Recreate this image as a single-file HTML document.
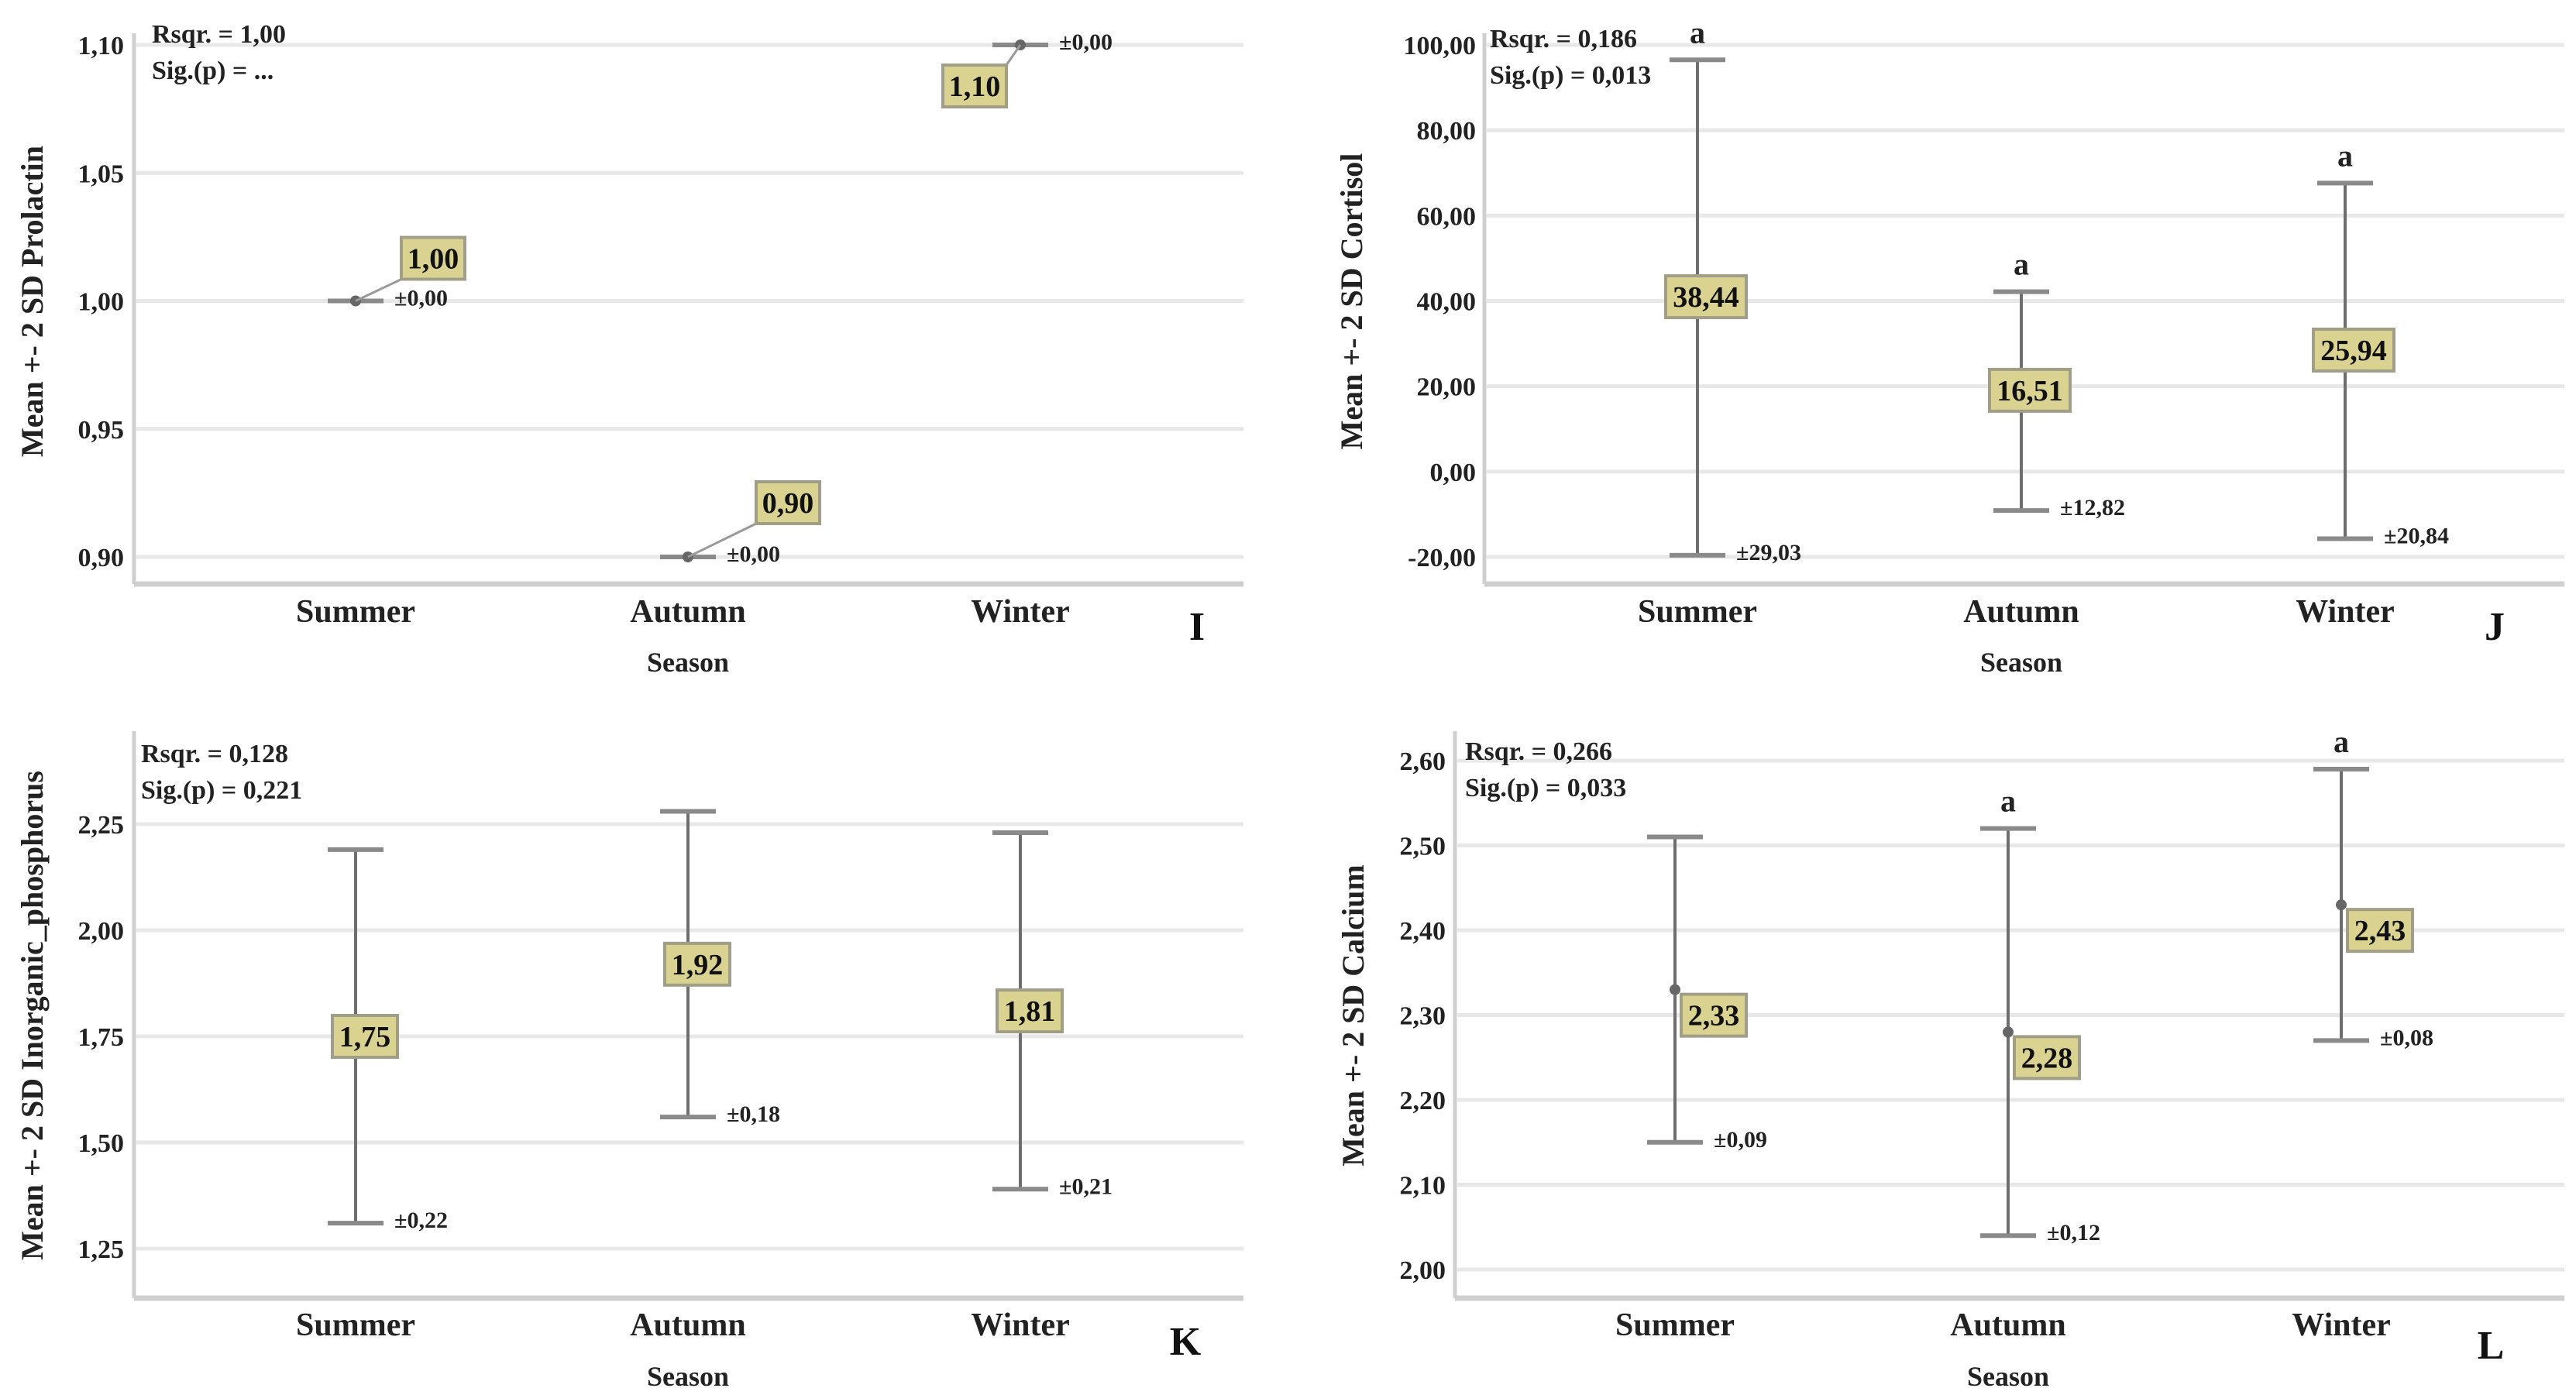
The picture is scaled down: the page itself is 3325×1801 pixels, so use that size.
<!DOCTYPE html>
<html><head><meta charset="utf-8"><style>
html,body{margin:0;padding:0;background:#fff;}
svg{display:block;font-family:"Liberation Serif",serif;font-weight:bold;}
</style></head><body>
<svg id="chart" width="3325" height="1801" viewBox="0 0 3325 1801" xmlns="http://www.w3.org/2000/svg"></svg>
<script>
const categories = ["Summer","Autumn","Winter"];
// Panel I - Prolactin
const prolMeans = [1.00, 0.90, 1.10];
const prolSD = [0.00, 0.00, 0.00];
const prolTicks = [0.90, 0.95, 1.00, 1.05, 1.10];
const prolLetters = ["", "", ""];
// Panel J - Cortisol
const cortMeans = [38.44, 16.51, 25.94];
const cortSD = [29.03, 12.82, 20.84];
const cortTicks = [-20, 0, 20, 40, 60, 80, 100];
const cortLetters = ["a", "a", "a"];
// Panel K - Inorganic phosphorus
const phosMeans = [1.75, 1.92, 1.81];
const phosSD = [0.22, 0.18, 0.21];
const phosTicks = [1.25, 1.50, 1.75, 2.00, 2.25];
const phosLetters = ["", "", ""];
// Panel L - Calcium
const calcMeans = [2.33, 2.28, 2.43];
const calcSD = [0.09, 0.12, 0.08];
const calcTicks = [2.00, 2.10, 2.20, 2.30, 2.40, 2.50, 2.60];
const calcLetters = ["", "a", "a"];

const NS = "http://www.w3.org/2000/svg";
const svg = document.getElementById('chart');
function mk(tag, attrs, parent, text){
  const e = document.createElementNS(NS, tag);
  for (const k in attrs) e.setAttribute(k, attrs[k]);
  if (text !== undefined) e.textContent = text;
  (parent || svg).appendChild(e);
  return e;
}
function fmt(v, d){ return v.toFixed(d).replace('.', ','); }

function panel(cfg){
  const g = mk('g', {});
  
  
  const y = v => cfg.y0px + (v - cfg.v0) * (cfg.y1px - cfg.y0px) / (cfg.v1 - cfg.v0);
  const step = cfg.step;
  const x = i => cfg.cx0 + i * step;
  cfg.ticks.forEach(t => {
    const gl = mk('line', {x1: cfg.left + 3, x2: cfg.right, y1: y(t), y2: y(t), stroke: '#e8e8e8', 'stroke-width': 5}, g);
    
    
    const tl = mk('text', {x: cfg.tickX, y: y(t) + 12, 'text-anchor': 'end', 'font-size': 34, fill: '#222'}, g, fmt(t, 2));
    
    
  });
  const ya = mk('line', {x1: cfg.left, x2: cfg.left, y1: cfg.top, y2: cfg.bottom, stroke: '#cfcfcf', 'stroke-width': 5}, g);
  
  
  const xa = mk('line', {x1: cfg.left, x2: cfg.right, y1: cfg.bottom, y2: cfg.bottom, stroke: '#cfcfcf', 'stroke-width': 7}, g);
  
  
  categories.forEach((c, i) => {
    const t = mk('text', {x: x(i), y: cfg.catY, 'text-anchor': 'middle', 'font-size': 42, fill: '#222'}, g, c);
    
    
  });
  const st = mk('text', {x: x(1), y: cfg.seasonY, 'text-anchor': 'middle', 'font-size': 36, fill: '#222'}, g, 'Season');
  
  
  const yt = mk('text', {x: 0, y: 0, 'text-anchor': 'middle', 'font-size': 40, fill: '#222', transform: `translate(${cfg.titleX},${cfg.titleY}) rotate(-90)`}, g, cfg.title);
  
  
  const pl = mk('text', {x: cfg.letterX, y: cfg.letterY, 'text-anchor': 'middle', 'font-size': 52, fill: '#111'}, g, cfg.letter);
  
  
  const r1 = mk('text', {x: cfg.statX, y: cfg.statY, 'font-size': 34, fill: '#222'}, g, cfg.rsq);
  
  
  const r2 = mk('text', {x: cfg.statX, y: cfg.statY + 47, 'font-size': 34, fill: '#222'}, g, cfg.sig);
  
  
  cfg.means.forEach((m, i) => {
    const hi = m + 2 * cfg.sd[i], lo = m - 2 * cfg.sd[i];
    const cx = x(i);
    const bg = mk('g', {}, g);
    
    
    mk('line', {x1: cx, x2: cx, y1: y(hi), y2: y(lo), stroke: '#6e6e6e', 'stroke-width': 4}, bg);
    mk('line', {x1: cx - 36, x2: cx + 36, y1: y(hi), y2: y(hi), stroke: '#8a8a8a', 'stroke-width': 6}, bg);
    mk('line', {x1: cx - 36, x2: cx + 36, y1: y(lo), y2: y(lo), stroke: '#8a8a8a', 'stroke-width': 6}, bg);
    const pt = mk('circle', {cx: cx, cy: y(m), r: 7, fill: '#666'}, bg);
    
    
    const sdT = mk('text', {x: cx + 50, y: y(lo) + 6, 'font-size': 30, fill: '#222'}, bg, '±' + fmt(cfg.sd[i], 2));
    
    
    if (cfg.letters[i]) {
      const lt = mk('text', {x: cx, y: y(hi) - 22, 'text-anchor': 'middle', 'font-size': 40, fill: '#222'}, bg, cfg.letters[i]);
      
      
    }
    const o = cfg.boxOff[i];
    const bw = cfg.boxW, bh = 54;
    const bx = cx + o[0], by = y(m) + o[1];
    if (o[2]) {
      mk('line', {x1: cx, y1: y(m), x2: o[2] > 0 ? bx : bx + bw, y2: o[2] > 0 ? by + bh : by, stroke: '#999', 'stroke-width': 3}, bg);
    }
    const rb = mk('rect', {x: bx, y: by, width: bw, height: bh, fill: '#d9d290', stroke: '#a09e86', 'stroke-width': 4}, bg);
    
    
    const vt = mk('text', {x: bx + bw / 2, y: by + 40, 'text-anchor': 'middle', 'font-size': 38, fill: '#111'}, bg, fmt(m, 2));
    
    
  });
}

panel({name:'panel-i-prolactin', means:prolMeans, sd:prolSD, ticks:prolTicks, letters:prolLetters,
  v0:1.10, v1:0.90, y0px:58, y1px:719, left:173, right:1605, top:43, bottom:754, cx0:459, step:429,
  tickX:160, catY:803, seasonY:867, titleX:55, titleY:389, title:'Mean +- 2 SD Prolactin',
  letter:'I', letterX:1545, letterY:826, statX:196, statY:55, rsq:'Rsqr. = 1,00', sig:'Sig.(p) = ...',
  boxW:82, boxOff:[[59,-82,1],[88,-97,1],[-100,26,-1]]});
panel({name:'panel-j-cortisol', means:cortMeans, sd:cortSD, ticks:cortTicks, letters:cortLetters,
  v0:100, v1:-20, y0px:58, y1px:719, left:1916, right:3310, top:43, bottom:754, cx0:2191, step:418,
  tickX:1905, catY:803, seasonY:867, titleX:1758, titleY:389, title:'Mean +- 2 SD Cortisol',
  letter:'J', letterX:3220, letterY:826, statX:1923, statY:61, rsq:'Rsqr. = 0,186', sig:'Sig.(p) = 0,013',
  boxW:104, boxOff:[[-41,-41,0],[-41,-41,0],[-41,-41,0]]});
panel({name:'panel-k-phosphorus', means:phosMeans, sd:phosSD, ticks:phosTicks, letters:phosLetters,
  v0:2.25, v1:1.25, y0px:1064, y1px:1612, left:173, right:1605, top:944, bottom:1676, cx0:459, step:429,
  tickX:160, catY:1724, seasonY:1789, titleX:55, titleY:1311, title:'Mean +- 2 SD Inorganic_phosphorus',
  letter:'K', letterX:1530, letterY:1749, statX:182, statY:984, rsq:'Rsqr. = 0,128', sig:'Sig.(p) = 0,221',
  boxW:84, boxOff:[[-30,-27,0],[-30,-27,0],[-30,-27,0]]});
panel({name:'panel-l-calcium', means:calcMeans, sd:calcSD, ticks:calcTicks, letters:calcLetters,
  v0:2.60, v1:2.00, y0px:982, y1px:1639, left:1878, right:3310, top:944, bottom:1676, cx0:2162, step:430,
  tickX:1866, catY:1724, seasonY:1789, titleX:1760, titleY:1311, title:'Mean +- 2 SD Calcium',
  letter:'L', letterX:3215, letterY:1754, statX:1891, statY:981, rsq:'Rsqr. = 0,266', sig:'Sig.(p) = 0,033',
  boxW:84, boxOff:[[8,6,0],[8,6,0],[8,6,0]]});
</script>
</body></html>
